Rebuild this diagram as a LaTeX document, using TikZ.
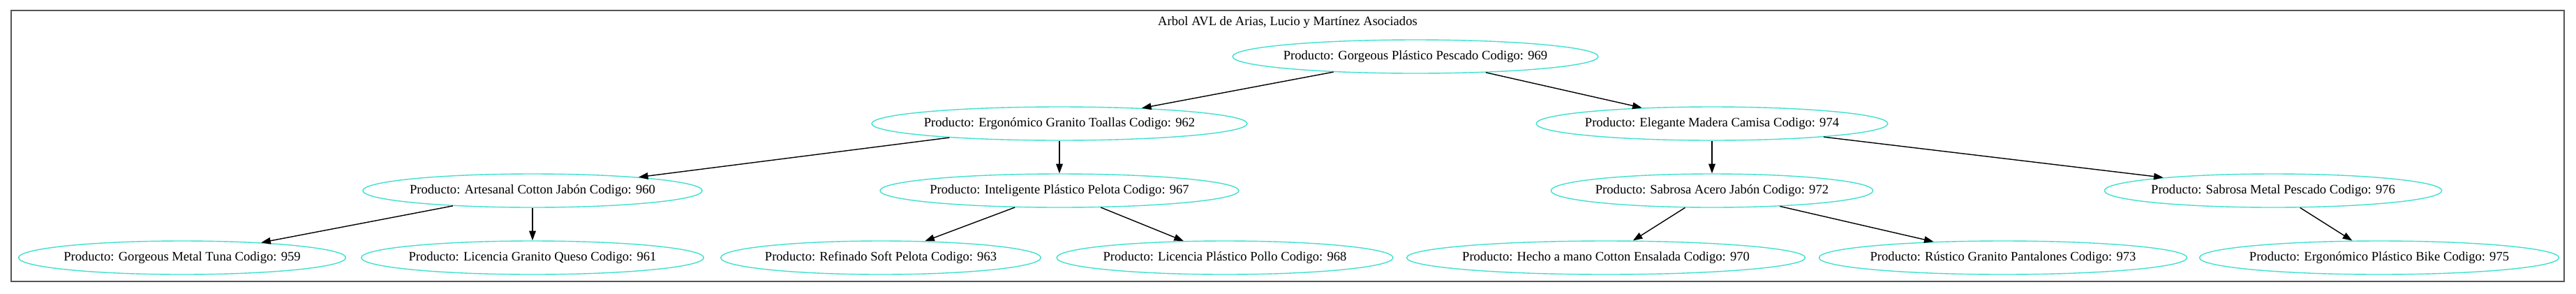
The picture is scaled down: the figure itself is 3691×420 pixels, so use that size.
\documentclass[tikz,border=0pt]{standalone}
\usepackage{fontspec}
\setmainfont{Liberation Serif}
\definecolor{turquesa}{HTML}{40E0D0}
\definecolor{marco}{HTML}{555555}
\usetikzlibrary{shapes.geometric,arrows.meta}
\tikzset{
	>={Triangle[length=6.8pt,width=4.8pt]},
	producto/.style={
		ellipse,
		draw=turquesa, line width=0.7pt,
		inner xsep=-2pt, inner ysep=1pt,
		minimum height=24pt,
		font=\fontsize{9.3}{11}\selectfont},
	line/.style={draw, line width=0.7pt, ->},
	cluster/.style={draw=marco, line width=1pt},
	titulo/.style={font=\fontsize{9.3}{11}\selectfont, inner sep=0pt},
}

\begin{document}
\begin{tikzpicture}[x=0.5pt,y=-0.5pt]
\useasboundingbox (0,0) rectangle (3691,420);
\draw[cluster] (16,15) rectangle (3674,403);
\node[titulo] (arbol) at (1845,32) {Arbol AVL de Arias, Lucio y Martínez Asociados};

% raiz
\node[producto] (p969) at (2028,81) {Producto: Gorgeous Plástico Pescado Codigo: 969};
% nivel 2
\node[producto] (p962) at (1518,177) {Producto: Ergonómico Granito Toallas Codigo: 962};
\node[producto] (p974) at (2453,177) {Producto: Elegante Madera Camisa Codigo: 974};
% nivel 3
\node[producto] (p960) at (763,273) {Producto: Artesanal Cotton Jabón Codigo: 960};
\node[producto] (p967) at (1518,273) {Producto: Inteligente Plástico Pelota Codigo: 967};
\node[producto] (p972) at (2453,273) {Producto: Sabrosa Acero Jabón Codigo: 972};
\node[producto] (p976) at (3257,273) {Producto: Sabrosa Metal Pescado Codigo: 976};
% hojas
\node[producto] (p959) at (261,369) {Producto: Gorgeous Metal Tuna Codigo: 959};
\node[producto] (p961) at (763,369) {Producto: Licencia Granito Queso Codigo: 961};
\node[producto] (p963) at (1262,369) {Producto: Refinado Soft Pelota Codigo: 963};
\node[producto] (p968) at (1755,369) {Producto: Licencia Plástico Pollo Codigo: 968};
\node[producto] (p970) at (2301,369) {Producto: Hecho a mano Cotton Ensalada Codigo: 970};
\node[producto] (p973) at (2870,369) {Producto: Rústico Granito Pantalones Codigo: 973};
\node[producto] (p975) at (3409,369) {Producto: Ergonómico Plástico Bike Codigo: 975};

\path[line] (p969) -- (p962);
\path[line] (p969) -- (p974);
\path[line] (p962) -- (p960);
\path[line] (p962) -- (p967);
\path[line] (p974) -- (p972);
\path[line] (p974) -- (p976);
\path[line] (p960) -- (p959);
\path[line] (p960) -- (p961);
\path[line] (p967) -- (p963);
\path[line] (p967) -- (p968);
\path[line] (p972) -- (p970);
\path[line] (p972) -- (p973);
\path[line] (p976) -- (p975);
\end{tikzpicture}
\end{document}
